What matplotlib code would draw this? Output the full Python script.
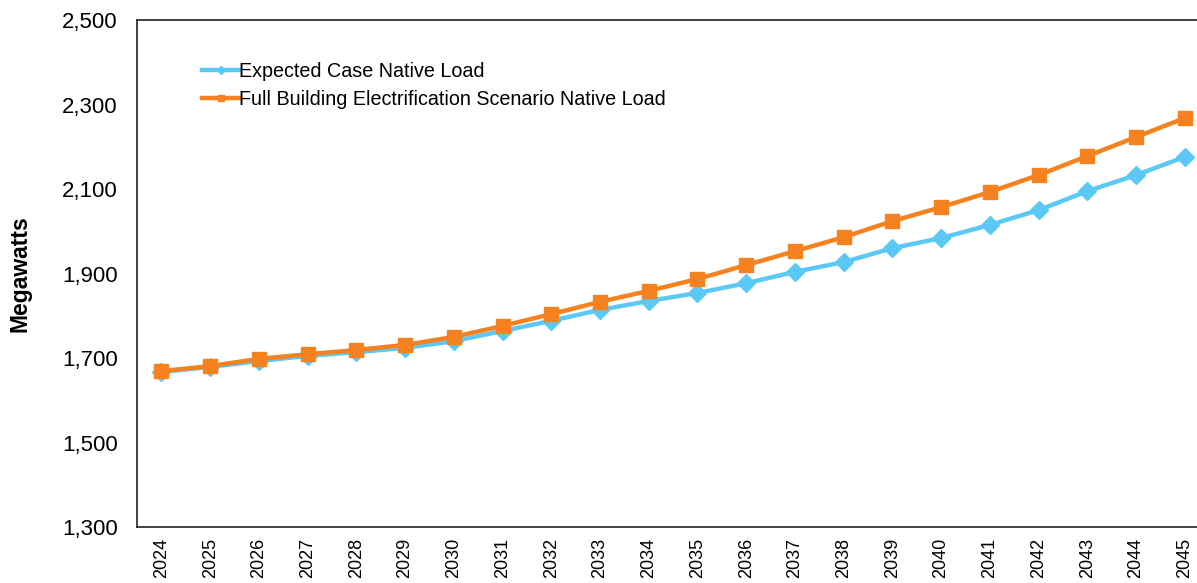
import matplotlib.pyplot as plt
from matplotlib.ticker import FuncFormatter

plt.rcParams['font.family'] = ['Liberation Sans', 'DejaVu Sans']

years = [str(y) for y in range(2024, 2046)]
expected_load = [1667, 1679, 1693, 1705, 1714, 1724, 1740, 1764, 1788, 1814, 1835,
                 1854, 1877, 1904, 1927, 1960, 1984, 2015, 2050, 2095, 2133, 2176]
electrification_load = [1669, 1681, 1698, 1709, 1719, 1731, 1750, 1776, 1804, 1833, 1859,
                        1887, 1920, 1953, 1986, 2024, 2057, 2093, 2133, 2178, 2223, 2268]
y_ticks = [1300, 1500, 1700, 1900, 2100, 2300, 2500]

fig = plt.figure(figsize=(11.97, 5.83), dpi=100)
# the source image is cropped on the right, so the axes run past the figure edge
ax = fig.add_axes([0.1145, 0.096, 0.8956, 0.8696])

x = list(range(len(years)))
ax.plot(x, expected_load, color='#5BC8F5', lw=3.2, marker='D', ms=9,
        label='Expected Case Native Load')
ax.plot(x, electrification_load, color='#F5821F', lw=3.2, marker='s', ms=9.5,
        label='Full Building Electrification Scenario Native Load')

ax.set_xlim(-0.5, len(years) - 0.5)
ax.set_ylim(1300, 2500)
ax.set_yticks(y_ticks)
ax.yaxis.set_major_formatter(FuncFormatter(lambda v, p: f'{int(v):,}'))
ax.set_xticks(x)
ax.set_xticklabels(years, rotation=90, va='top')
ax.tick_params(axis='y', length=0, pad=14, labelsize=16)
ax.tick_params(axis='x', length=0, pad=8, labelsize=13)

for side in ['left', 'top', 'bottom', 'right']:
    ax.spines[side].set_color('#222222')
    ax.spines[side].set_linewidth(1.2)

ax.set_ylabel('Megawatts', fontsize=16.5, fontweight='bold', labelpad=22)

leg = ax.legend(loc='upper left', bbox_to_anchor=(0.044, 0.952), frameon=False,
                fontsize=14.2, handlelength=1.9, handletextpad=0.0,
                labelspacing=0.45, markerscale=0.5)

fig.savefig('out.png', dpi=100)
